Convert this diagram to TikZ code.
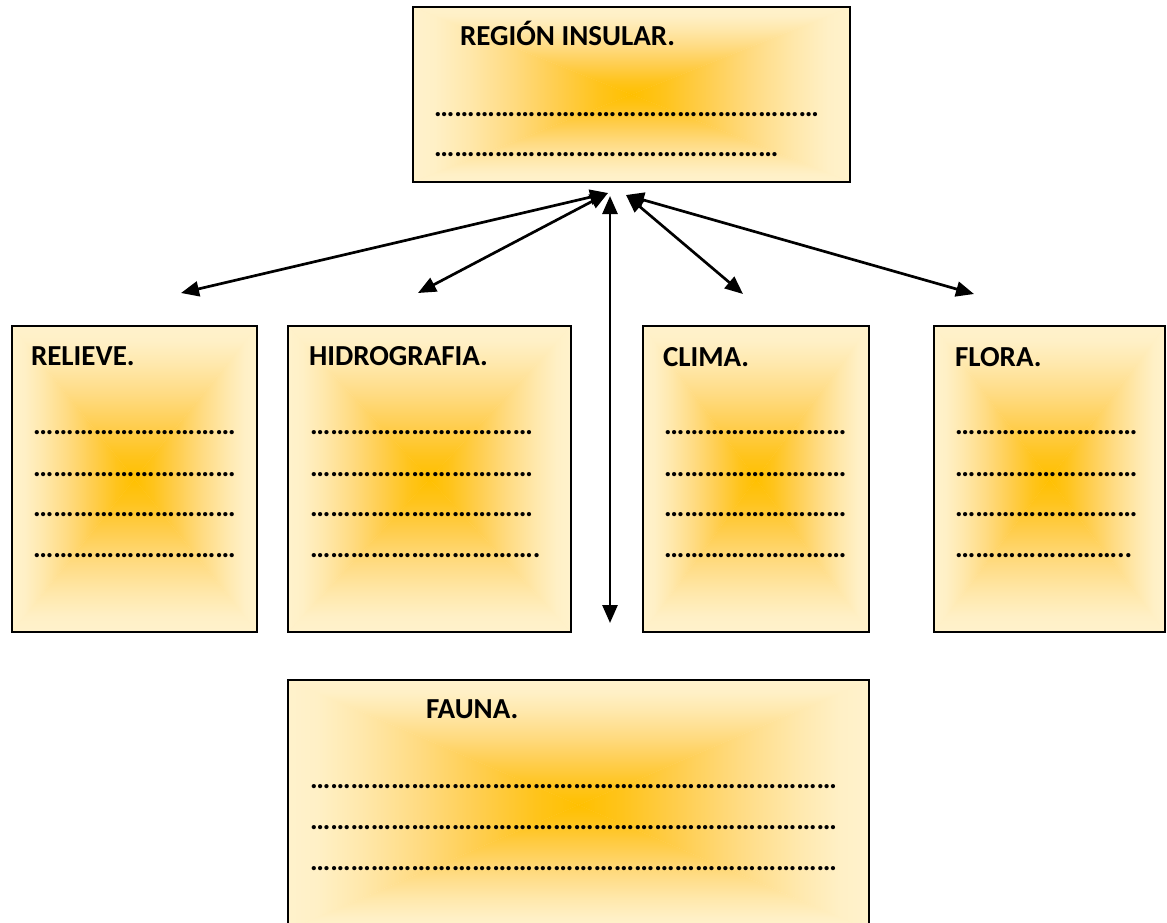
\documentclass[tikz,border=0pt]{standalone}
\usepackage{fontspec}
\setmainfont{Carlito}
\usetikzlibrary{arrows.meta,backgrounds}
\definecolor{g0}{HTML}{FFC000}
\definecolor{g1}{HTML}{FFC41C}
\definecolor{g2}{HTML}{FFCE50}
\definecolor{g3}{HTML}{FFDB82}
\definecolor{g4}{HTML}{FFE8AC}
\definecolor{g5}{HTML}{FFF0C6}
\definecolor{g6}{HTML}{FFF2CC}
\pgfdeclareverticalshading{ctrgrad}{100bp}{color(0bp)=(g0); color(25bp)=(g0); color(32.5bp)=(g1); color(42.5bp)=(g2); color(52.5bp)=(g3); color(62.5bp)=(g4); color(70bp)=(g5); color(75bp)=(g6); color(100bp)=(g6)}
\newcommand{\shadebx}[1]{%
  \begin{scope}[on background layer]
    \shade[inner color=g2, outer color=g5] (#1.south west) rectangle (#1.north east);
    \shade[shading=ctrgrad, shading angle=90] (#1.center) -- (#1.north west) -- (#1.south west) -- cycle;
    \shade[shading=ctrgrad, shading angle=270] (#1.center) -- (#1.north east) -- (#1.south east) -- cycle;
    \shade[shading=ctrgrad, shading angle=0] (#1.center) -- (#1.north west) -- (#1.north east) -- cycle;
    \shade[shading=ctrgrad, shading angle=180] (#1.center) -- (#1.south west) -- (#1.south east) -- cycle;
  \end{scope}}
\newcommand{\dotrow}[2]{\foreach \k in {1,...,#1}{…}#2}
\tikzset{
  boxst/.style={draw=black, line width=1.6pt, rectangle, inner sep=0pt, outer sep=0pt},
  txt/.style={anchor=base west, inner sep=0pt, outer sep=0pt, font=\fontsize{29}{34}\selectfont\bfseries},
  dtxt/.style={anchor=base west, inner sep=0pt, outer sep=0pt, font=\fontsize{28.5}{33}\selectfont\bfseries},
  arr/.style={line width=2.7pt, {Triangle[length=18pt,width=15pt]}-{Triangle[length=18pt,width=15pt]}}
}
\begin{document}
\begin{tikzpicture}[x=1pt,y=-1pt]
\useasboundingbox (0,0) rectangle (1167,922);
% boxes
\node[boxst, minimum width=437pt, minimum height=175pt] (ins) at (631.5,94.5) {};
\node[boxst, minimum width=245pt, minimum height=306pt] (rel) at (134.5,479) {};
\node[boxst, minimum width=283pt, minimum height=306pt] (hid) at (429.5,479) {};
\node[boxst, minimum width=226pt, minimum height=306pt] (cli) at (756,479) {};
\node[boxst, minimum width=231pt, minimum height=306pt] (flo) at (1049.5,479) {};
\node[boxst, minimum width=581pt, minimum height=250pt] (fau) at (578.5,805) {};
\shadebx{ins}\shadebx{rel}\shadebx{hid}\shadebx{cli}\shadebx{flo}\shadebx{fau}
% texts
\node[txt] (insT) at (460,45) {REGIÓN INSULAR.};
\node[dtxt] (insA) at (434,116) {\dotrow{19}{}};
\node[dtxt] (insB) at (434,156) {\dotrow{17}{}};
\node[txt] (relT) at (31,365) {RELIEVE.};
\node[dtxt] (relA) at (33,434) {\dotrow{10}{}};
\node[dtxt] (relB) at (33,476) {\dotrow{10}{}};
\node[dtxt] (relC) at (33,516) {\dotrow{10}{}};
\node[dtxt] (relD) at (33,557) {\dotrow{10}{}};
\node[txt] (hidT) at (309,365) {HIDROGRAFIA.};
\node[dtxt] (hidA) at (310,434) {\dotrow{11}{}};
\node[dtxt] (hidB) at (310,476) {\dotrow{11}{}};
\node[dtxt] (hidC) at (310,516) {\dotrow{11}{}};
\node[dtxt] (hidD) at (310,557) {\dotrow{11}{.}};
\node[txt] (cliT) at (663,366) {CLIMA.};
\node[dtxt] (cliA) at (664,434) {\dotrow{9}{}};
\node[dtxt] (cliB) at (664,476) {\dotrow{9}{}};
\node[dtxt] (cliC) at (664,516) {\dotrow{9}{}};
\node[dtxt] (cliD) at (664,557) {\dotrow{9}{}};
\node[txt] (floT) at (955,366) {FLORA.};
\node[dtxt] (floA) at (955,434) {\dotrow{9}{}};
\node[dtxt] (floB) at (955,476) {\dotrow{9}{}};
\node[dtxt] (floC) at (955,516) {\dotrow{9}{}};
\node[dtxt] (floD) at (955,557) {\dotrow{8}{..}};
\node[txt] (fauT) at (426,718) {FAUNA.};
\node[dtxt] (fauA) at (310,788) {\dotrow{26}{}};
\node[dtxt] (fauB) at (310,829) {\dotrow{26}{}};
\node[dtxt] (fauC) at (310,870) {\dotrow{26}{}};
% arrows
\coordinate (hubL) at (608,193);
\coordinate (hubM) at (610,196);
\coordinate (hubR) at (626,195);
\coordinate (eRel) at (181,293);
\coordinate (eHid) at (418,293);
\coordinate (eFau) at (610,623);
\coordinate (eCli) at (743,294);
\coordinate (eFlo) at (974,294);
\draw[arr] (hubL) -- (eRel);
\draw[arr] (hubL) -- (eHid);
\draw[arr] (hubM) -- (eFau);
\draw[arr] (hubR) -- (eCli);
\draw[arr] (hubR) -- (eFlo);
\end{tikzpicture}
\end{document}
